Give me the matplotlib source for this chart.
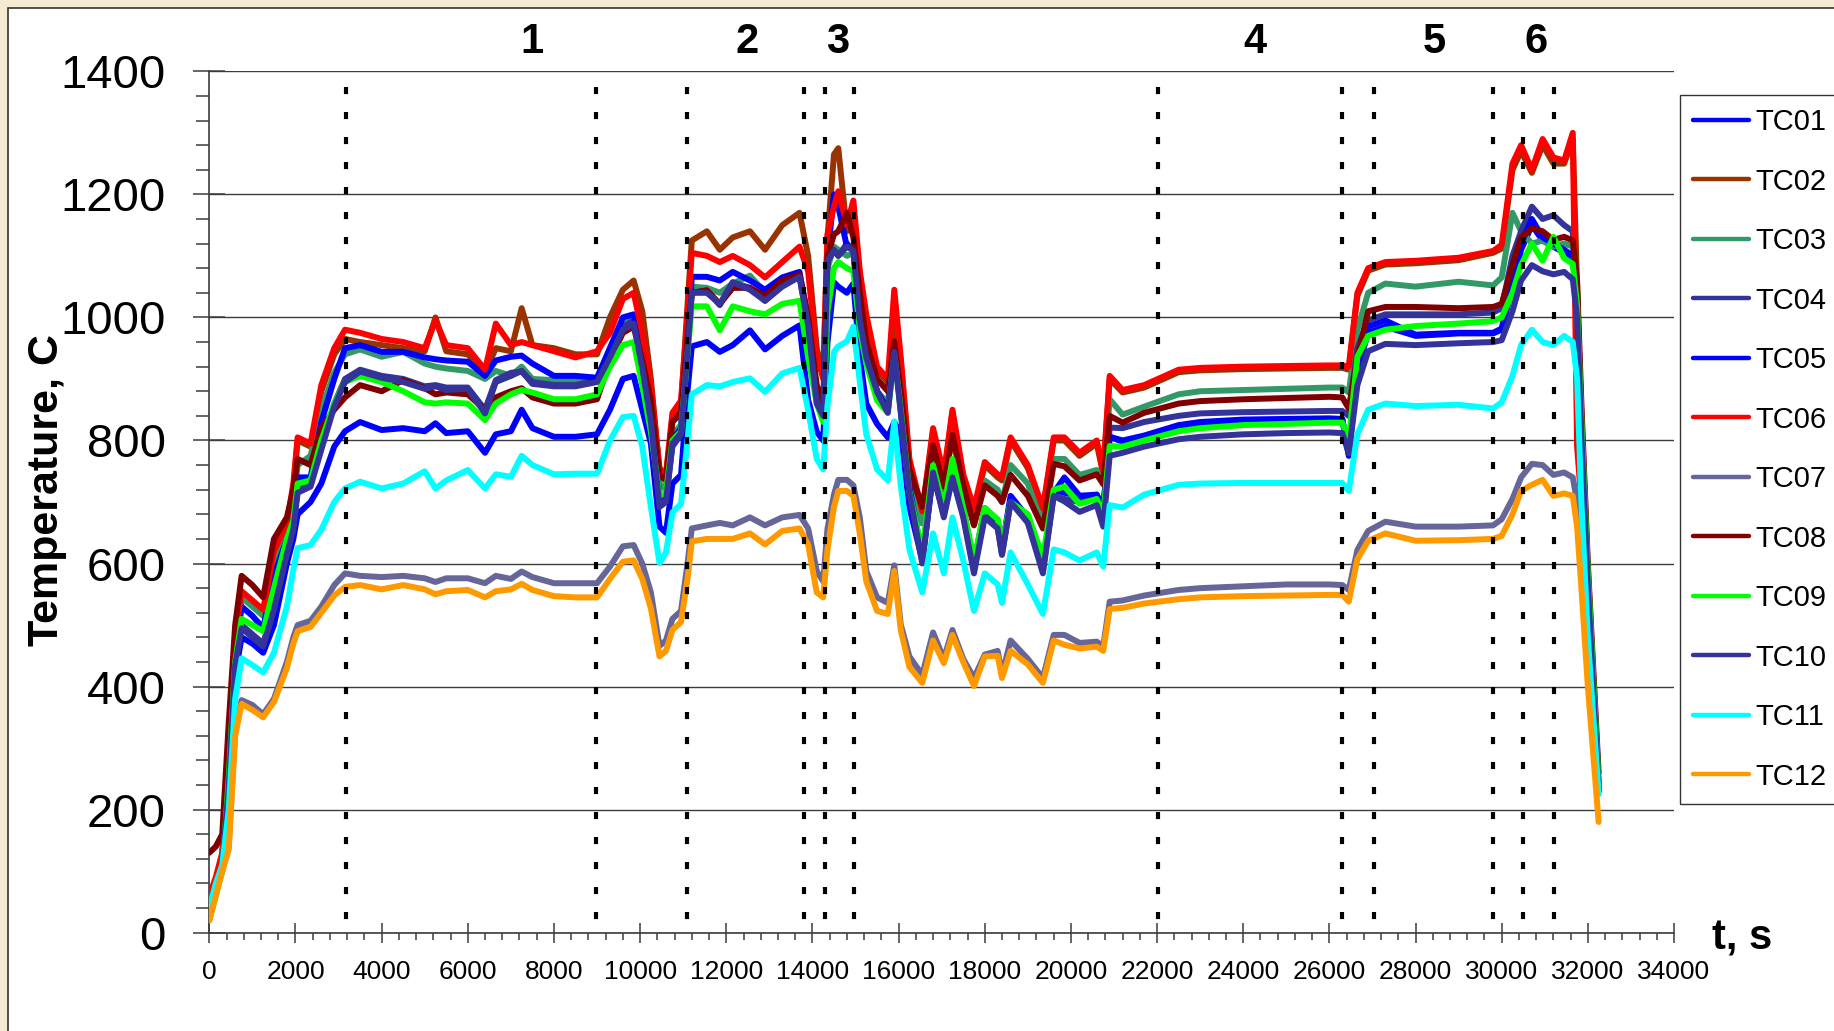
import matplotlib.pyplot as plt
from matplotlib.patches import Rectangle
from matplotlib.ticker import MultipleLocator

plt.rcParams['font.family'] = ['Liberation Sans', 'DejaVu Sans']

# time, s
t_s = [0, 150, 300, 450, 600, 750, 1000, 1250, 1500, 1800,
       1950, 2050, 2350, 2600, 2900, 3150, 3500, 4000, 4500, 5000,
       5250, 5500, 6000, 6400, 6650, 7000, 7250, 7500, 8000, 8500,
       9000, 9300, 9600, 9850, 10050, 10250, 10450, 10600, 10750, 10950,
       11100, 11200, 11550, 11850, 12150, 12550, 12900, 13300, 13700, 13900,
       14100, 14250, 14350, 14500, 14600, 14800, 14950, 15100, 15250, 15500,
       15750, 15900, 16050, 16250, 16550, 16800, 17050, 17250, 17500, 17750,
       18000, 18300, 18400, 18600, 19000, 19350, 19600, 19850, 20200, 20600,
       20750, 20900, 21200, 21700, 22500, 23000, 24000, 25000, 26000, 26300,
       26450, 26650, 26900, 27300, 28000, 29000, 29800, 30000, 30250, 30450,
       30700, 30950, 31200, 31450, 31650, 31750, 31850, 32000, 32250]

# thermocouple readings, C
tc01 = [50, 80, 115, 230, 420, 480, 470, 455, 500, 600,
        640, 680, 700, 730, 790, 815, 830, 817, 820, 815,
        828, 812, 815, 780, 810, 815, 850, 820, 806, 806,
        810, 850, 900, 905, 850, 795, 660, 650, 730, 744,
        880, 953, 960, 944, 955, 979, 948, 970, 987, 866,
        814, 800, 960, 1057, 1050, 1040, 1055, 935, 860, 827,
        805, 830, 810, 692, 605, 745, 680, 750, 680, 590,
        680, 662, 620, 705, 670, 595, 715, 740, 710, 710,
        685, 806, 798, 805, 822, 828, 832, 833, 835, 834,
        778, 915, 975, 985, 970, 974, 974, 980, 1050, 1110,
        1150, 1125, 1115, 1105, 1095, 1025, 815, 570, 230]

tc02 = [55, 85, 125, 290, 470, 550, 535, 520, 615, 660,
        720, 800, 790, 880, 940, 965, 960, 955, 950, 945,
        1000, 945, 940, 910, 950, 945, 1015, 955, 950, 940,
        940, 1000, 1045, 1060, 1010, 900, 750, 740, 835, 855,
        1020, 1125, 1140, 1110, 1130, 1140, 1110, 1150, 1170, 1100,
        950, 905, 1130, 1265, 1275, 1140, 1175, 1070, 995, 915,
        895, 1000, 930, 765, 680, 815, 740, 845, 740, 685,
        760, 740, 735, 800, 755, 685, 800, 800, 775, 795,
        745, 900, 878, 886, 911, 914, 916, 917, 918, 918,
        915, 1035, 1076, 1086, 1088, 1093, 1105, 1112, 1240, 1270,
        1235, 1280, 1250, 1250, 1290, 1050, 700, 475, 240]

tc03 = [40, 75, 115, 260, 460, 545, 530, 515, 600, 650,
        690, 760, 775, 850, 910, 940, 948, 936, 944, 925,
        920, 917, 913, 900, 913, 905, 920, 900, 898, 898,
        900, 950, 995, 1000, 950, 860, 730, 720, 810, 825,
        960, 1050, 1048, 1040, 1055, 1068, 1040, 1055, 1068, 1000,
        880, 850, 1080, 1115, 1110, 1100, 1105, 1020, 950, 880,
        860, 960, 860, 740, 665, 790, 720, 810, 720, 665,
        735, 720, 700, 760, 730, 665, 770, 770, 744, 752,
        730, 867, 842, 855, 875, 880, 882, 884, 886, 886,
        878, 980, 1040, 1055, 1050, 1058, 1052, 1065, 1170, 1140,
        1120, 1125, 1115, 1120, 1115, 1040, 840, 590, 245]

tc04 = [50, 80, 115, 240, 440, 500, 485, 470, 530, 620,
        660, 720, 730, 790, 860, 900, 915, 905, 900, 888,
        890, 886, 886, 850, 898, 910, 912, 895, 890, 890,
        898, 940, 985, 995, 930, 830, 700, 705, 790, 810,
        950, 1040, 1044, 1020, 1057, 1048, 1027, 1053, 1066, 990,
        870, 845, 1090, 1110, 1100, 1120, 1110, 1000, 940, 880,
        850, 950, 850, 720, 605, 750, 680, 740, 680, 590,
        680, 660, 615, 700, 668, 590, 710, 705, 700, 712,
        680, 821, 820, 830, 840, 844, 846, 847, 848, 848,
        840, 950, 995, 1005, 1005, 1005, 1008, 1015, 1100, 1140,
        1180, 1160, 1166, 1150, 1140, 1040, 830, 580, 240]

tc05 = [55, 85, 120, 270, 450, 530, 515, 495, 580, 640,
        680, 740, 740, 830, 900, 950, 955, 944, 944, 935,
        932, 930, 928, 905, 930, 936, 938, 925, 905, 905,
        902, 950, 1000, 1005, 940, 840, 710, 710, 800, 820,
        955, 1066, 1066, 1060, 1074, 1060, 1045, 1065, 1074, 995,
        880, 850, 1100, 1200, 1180, 1115, 1110, 1010, 945, 880,
        850, 955, 860, 725, 610, 755, 690, 760, 690, 600,
        690, 670, 625, 710, 675, 600, 720, 715, 710, 712,
        690, 806, 800, 808, 825, 830, 834, 835, 836, 835,
        775, 920, 985, 995, 972, 975, 975, 982, 1060, 1120,
        1160, 1130, 1120, 1110, 1100, 1030, 820, 575, 235]

tc06 = [60, 90, 130, 300, 480, 555, 540, 525, 620, 665,
        730, 805, 795, 890, 950, 980, 975, 965, 960, 950,
        995, 955, 950, 915, 990, 955, 960, 955, 945, 935,
        945, 975, 1030, 1040, 975, 890, 755, 745, 845, 865,
        1005, 1105, 1100, 1090, 1100, 1085, 1065, 1090, 1115, 1075,
        940, 900, 1135, 1180, 1205, 1150, 1190, 1075, 1005, 920,
        900, 1045, 935, 770, 685, 820, 745, 850, 745, 690,
        765, 745, 740, 805, 760, 690, 805, 805, 780, 800,
        750, 905, 882, 890, 915, 918, 920, 921, 922, 922,
        920, 1040, 1080, 1090, 1092, 1097, 1108, 1118, 1250, 1280,
        1240, 1290, 1260, 1255, 1300, 790, 700, 490, 230]

tc07 = [30, 70, 100, 140, 330, 378, 370, 355, 380, 440,
        480, 500, 507, 530, 565, 584, 580, 578, 580, 576,
        570, 576, 576, 568, 580, 575, 587, 578, 568, 568,
        568, 595, 628, 630, 600, 553, 466, 475, 510, 523,
        600, 657, 662, 666, 662, 675, 662, 675, 679, 657,
        588, 571, 657, 712, 736, 736, 727, 675, 588, 545,
        536, 597, 501, 449, 419, 488, 445, 492, 445, 414,
        452, 458, 419, 475, 445, 414, 484, 484, 471, 473,
        465, 538, 540, 548, 557, 560, 563, 566, 566, 565,
        557, 622, 653, 668, 660, 660, 662, 672, 705, 740,
        762, 760, 744, 748, 740, 700, 600, 470, 240]

tc08 = [130, 140, 160, 340, 500, 580, 565, 545, 640, 675,
        720, 770, 760, 820, 850, 870, 890, 880, 898, 885,
        875, 878, 875, 850, 870, 880, 885, 870, 860, 860,
        867, 930, 975, 985, 930, 866, 744, 735, 830, 845,
        965, 1040, 1044, 1022, 1048, 1048, 1035, 1060, 1070, 1000,
        890, 857, 1100, 1135, 1140, 1170, 1130, 1040, 960, 900,
        880, 961, 880, 753, 692, 792, 725, 809, 727, 662,
        727, 710, 700, 744, 710, 657, 762, 758, 735, 745,
        729, 840, 829, 845, 860, 864, 867, 869, 871, 870,
        852, 936, 1010, 1017, 1017, 1015, 1017, 1022, 1085, 1130,
        1145, 1140, 1126, 1131, 1125, 1060, 860, 600, 260]

tc09 = [20, 60, 100, 250, 440, 510, 500, 490, 560, 640,
        670, 730, 735, 800, 860, 895, 905, 895, 880, 862,
        860, 862, 860, 833, 860, 875, 882, 878, 867, 867,
        875, 920, 955, 960, 890, 814, 710, 715, 800, 815,
        940, 1018, 1018, 979, 1018, 1010, 1005, 1022, 1027, 935,
        860, 830, 1010, 1080, 1090, 1080, 1075, 980, 925, 865,
        845, 940, 850, 717, 618, 760, 690, 770, 690, 605,
        690, 672, 630, 700, 680, 610, 720, 725, 697, 705,
        680, 791, 790, 800, 815, 820, 825, 827, 829, 829,
        800, 936, 970, 980, 986, 990, 994, 1000, 1040, 1085,
        1120, 1092, 1131, 1096, 1087, 1020, 830, 585, 240]

tc10 = [45, 75, 110, 235, 435, 495, 480, 465, 525, 615,
        655, 715, 725, 785, 855, 895, 912, 902, 895, 884,
        888, 882, 884, 844, 895, 905, 913, 892, 888, 888,
        895, 935, 980, 990, 918, 831, 692, 700, 795, 812,
        945, 1040, 1040, 1022, 1057, 1045, 1027, 1050, 1066, 987,
        860, 840, 1092, 1109, 1100, 1115, 1109, 995, 935, 879,
        845, 944, 845, 715, 600, 748, 675, 740, 675, 584,
        675, 657, 614, 700, 666, 584, 710, 701, 684, 695,
        660, 775, 780, 790, 802, 806, 810, 812, 813, 812,
        779, 890, 945, 957, 955, 958, 960, 963, 1010, 1060,
        1085, 1075, 1070, 1074, 1062, 1000, 810, 565, 230]

tc11 = [40, 80, 110, 200, 380, 446, 435, 423, 455, 530,
        590, 625, 630, 655, 700, 722, 733, 722, 730, 750,
        722, 735, 752, 722, 745, 741, 775, 760, 745, 746,
        746, 800, 838, 840, 790, 692, 601, 618, 683, 697,
        800, 875, 890, 888, 895, 901, 879, 909, 918, 849,
        770, 753, 857, 944, 953, 961, 985, 895, 810, 753,
        735, 831, 727, 623, 553, 649, 584, 675, 605, 523,
        584, 566, 536, 618, 566, 518, 623, 618, 605, 618,
        595, 695, 691, 712, 728, 730, 731, 731, 731, 731,
        718, 810, 850, 860, 856, 858, 852, 862, 905, 955,
        980, 960, 955, 970, 960, 900, 700, 480, 225]

tc12 = [20, 60, 100, 135, 320, 372, 362, 350, 375, 430,
        470, 490, 497, 520, 548, 562, 565, 558, 565, 558,
        550, 555, 557, 545, 555, 558, 567, 557, 547, 545,
        545, 575, 603, 605, 575, 527, 449, 458, 492, 505,
        575, 636, 640, 640, 640, 649, 631, 653, 657, 631,
        553, 545, 623, 692, 718, 718, 710, 649, 571, 523,
        518, 588, 492, 432, 406, 475, 438, 484, 440, 401,
        449, 450, 414, 458, 436, 406, 475, 468, 462, 465,
        458, 526, 528, 535, 542, 545, 547, 548, 549, 549,
        538, 607, 637, 649, 637, 638, 640, 645, 680, 718,
        728, 736, 710, 714, 710, 660, 560, 400, 180]

series = [tc01, tc02, tc03, tc04, tc05, tc06, tc07, tc08, tc09, tc10, tc11, tc12]
names = ['TC01', 'TC02', 'TC03', 'TC04', 'TC05', 'TC06',
         'TC07', 'TC08', 'TC09', 'TC10', 'TC11', 'TC12']
colors = ['#0000FF', '#993300', '#339966', '#333399', '#0000FF', '#FF0000',
          '#666699', '#800000', '#00FF00', '#333399', '#00FFFF', '#FF9900']

# stage boundaries and stage numbers
stage_bounds = [3170, 8980, 11080, 13795, 14290, 14965,
                22020, 26300, 27025, 29800, 30495, 31205]
stage_names = ['1', '2', '3', '4', '5', '6']
stage_name_x = [7490, 12490, 14580, 24280, 28430, 30800]

fig = plt.figure(figsize=(18.34, 10.31), dpi=100, facecolor='#F7EAD2')
fig.add_artist(Rectangle((7.5 / 1834, -0.01), 1.0, 1 - 7.5 / 1031 + 0.01,
                         transform=fig.transFigure, facecolor='white',
                         edgecolor='#333333', lw=1.2, zorder=-1))

ax = fig.add_axes([0.11413, 0.09534, 0.79864, 0.83550])
ax.set_facecolor('white')

for vals, name, c in zip(series, names, colors):
    ax.plot(t_s, vals, color=c, lw=4.3, label=name, zorder=3,
            solid_joinstyle='round', solid_capstyle='round')

for x in stage_bounds:
    ax.plot([x, x], [1375, 0], color='black', lw=3, dashes=(1.7, 4.3),
            dash_capstyle='butt', zorder=4)

for name, x in zip(stage_names, stage_name_x):
    ax.text(x, 1448, name, ha='center', va='center', fontsize=30,
            fontweight='bold', clip_on=False)

ax.set_xlim(0, 34000)
ax.set_ylim(0, 1400)
ax.set_xticks(range(0, 34001, 2000))
ax.set_yticks(range(0, 1401, 200))
ax.xaxis.set_minor_locator(MultipleLocator(400))
ax.yaxis.set_minor_locator(MultipleLocator(40))
ax.yaxis.grid(True, color='#3c3c3c', lw=1.0)
ax.set_axisbelow(True)

ax.tick_params(axis='y', which='major', direction='inout', length=23, width=1.1,
               labelsize=34, pad=20, color='#3c3c3c')
ax.tick_params(axis='y', which='minor', direction='out', length=9.5, width=1.1,
               color='#3c3c3c')
ax.tick_params(axis='x', which='major', direction='inout', length=13.7, width=1.1,
               labelsize=19, pad=13, color='#3c3c3c')
ax.tick_params(axis='x', which='minor', direction='out', length=5, width=1.1,
               color='#3c3c3c')

for side in ['top', 'right']:
    ax.spines[side].set_visible(False)
for side in ['left', 'bottom']:
    ax.spines[side].set_color('#3c3c3c')
    ax.spines[side].set_linewidth(1.2)

fig.text(47 / 1834, 1 - 490 / 1031, 'Temperature, C', rotation=90, fontsize=31,
         fontweight='bold', ha='center', va='center')
fig.text(1742 / 1834, 1 - 938 / 1031, 't, s', fontsize=30, fontweight='bold',
         ha='center', va='center')

leg = ax.legend(loc='upper left', bbox_to_anchor=(1680 / 1834, 1 - 95 / 1031),
                bbox_transform=fig.transFigure, fontsize=21, frameon=True,
                fancybox=False, edgecolor='black', handlelength=1.9,
                handletextpad=0.25, labelspacing=1.08, borderpad=0.45,
                borderaxespad=0)
leg.get_frame().set_linewidth(1.0)
for line in leg.get_lines():
    line.set_linewidth(3.2)

fig.savefig('out.png', dpi=100, facecolor=fig.get_facecolor())
